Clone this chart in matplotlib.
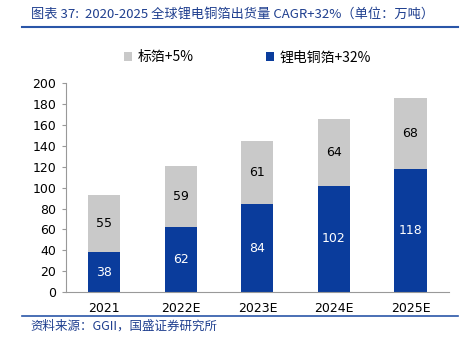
import matplotlib.pyplot as plt
import numpy as np

plt.rcParams['font.family'] = ['DejaVu Sans', 'Noto Sans CJK SC']

years = ['2021', '2022E', '2023E', '2024E', '2025E']
li_foil = [38, 62, 84, 102, 118]
std_foil = [55, 59, 61, 64, 68]

blue = '#0A3C9C'
gray = '#C9C9C9'
title_color = '#1F3F8F'

fig = plt.figure(figsize=(4.68, 3.54), dpi=100)
ax = fig.add_axes([0.141, 0.175, 0.818, 0.590])

x = np.arange(len(years))
w = 0.42
ax.bar(x, li_foil, w, color=blue, label='锂电铜箔+32%', zorder=2)
ax.bar(x, std_foil, w, bottom=li_foil, color=gray, label='标箔+5%', zorder=2)

for i in range(len(years)):
    ax.text(x[i], li_foil[i] / 2, str(li_foil[i]), ha='center', va='center',
            color='white', fontsize=9)
    ax.text(x[i], li_foil[i] + std_foil[i] / 2, str(std_foil[i]), ha='center',
            va='center', color='black', fontsize=9)

ax.set_xlim(-0.5, len(years) - 0.5)
ax.set_ylim(0, 200)
ax.set_yticks(range(0, 201, 20))
ax.set_xticks(x)
ax.set_xticklabels(years)
ax.tick_params(axis='y', labelsize=9, length=3, color='#999999', pad=4)
ax.tick_params(axis='x', labelsize=9, length=0, pad=7)
for s in ['top', 'right']:
    ax.spines[s].set_visible(False)
for s in ['left', 'bottom']:
    ax.spines[s].set_color('#999999')
    ax.spines[s].set_linewidth(0.8)

handles, labels = ax.get_legend_handles_labels()
fig.legend(handles[::-1], labels[::-1], loc='center', bbox_to_anchor=(0.529, 0.838),
           ncol=2, frameon=False, handlelength=0.6, handleheight=0.6,
           columnspacing=5.2, handletextpad=0.4,
           prop={'family': ['Noto Sans CJK SC'], 'size': 10})

fig.text(0.066, 0.960, '图表 37:  2020-2025 全球锂电铜箔出货量 CAGR+32%（单位：万吨）',
         fontsize=9.5, style='italic', color=title_color, va='center',
         family=['Noto Sans CJK SC', 'DejaVu Sans'])
fig.add_artist(plt.Line2D([0.047, 0.979], [0.923, 0.923], color='#2A56A8', lw=1.5))
fig.add_artist(plt.Line2D([0.047, 0.979], [0.107, 0.107], color='#2A56A8', lw=1.2))
fig.text(0.066, 0.078, '资料来源：GGII，国盛证券研究所', fontsize=9, style='italic',
         color=title_color, va='center', family=['Noto Sans CJK SC', 'DejaVu Sans'])

fig.savefig('out.png', dpi=100)
